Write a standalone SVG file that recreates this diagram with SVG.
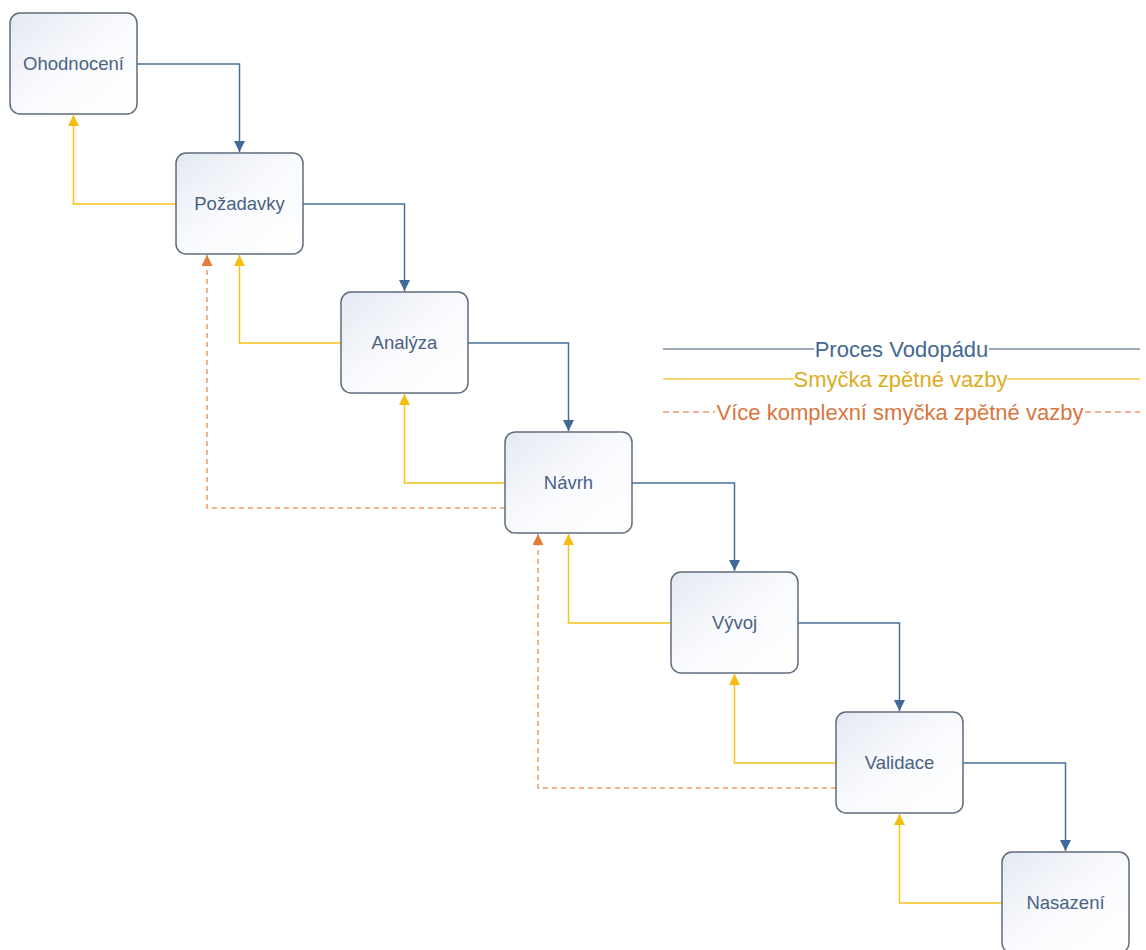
<svg xmlns="http://www.w3.org/2000/svg" width="1146" height="950" viewBox="0 0 1146 950">
  <defs>
    <linearGradient id="boxfill" x1="0" y1="0" x2="1" y2="1">
      <stop offset="0" stop-color="#e4e9f2"/>
      <stop offset="0.5" stop-color="#f9fafd"/>
      <stop offset="1" stop-color="#ffffff"/>
    </linearGradient>
    <marker id="ab" viewBox="0 0 10 10" refX="10" refY="5" markerWidth="11" markerHeight="11" markerUnits="userSpaceOnUse" orient="auto">
      <path d="M0,0 L10,5 L0,10 z" fill="#3f6a97"/>
    </marker>
    <marker id="ay" viewBox="0 0 10 10" refX="10" refY="5" markerWidth="11" markerHeight="11" markerUnits="userSpaceOnUse" orient="auto">
      <path d="M0,0 L10,5 L0,10 z" fill="#f5bd10"/>
    </marker>
    <marker id="ao" viewBox="0 0 10 10" refX="10" refY="5" markerWidth="11" markerHeight="11" markerUnits="userSpaceOnUse" orient="auto">
      <path d="M0,0 L10,5 L0,10 z" fill="#e47a3c"/>
    </marker>
  </defs>
  <style>
    .box { fill: url(#boxfill); stroke: #5e6c7c; stroke-width: 1.5; }
    .lbl { font-family: "Liberation Sans", Arial, sans-serif; font-size: 18.5px; fill: #4a6284; text-anchor: middle; }
    .blue { fill: none; stroke: #45709b; stroke-width: 1.5; }
    .yel { fill: none; stroke: #f7c21a; stroke-width: 1.5; }
    .org { fill: none; stroke: #ef9a62; stroke-width: 1.5; stroke-dasharray: 5 4; }
    .leg { font-family: "Liberation Sans", Arial, sans-serif; font-size: 22px; text-anchor: middle; }
  </style>
  <rect width="1146" height="950" fill="#ffffff"/>

  <g id="connectors">
    <!-- blue process flow -->
    <path class="blue" d="M137,64 H239.5 V152" marker-end="url(#ab)"/>
    <path class="blue" d="M303,204 H404.5 V291" marker-end="url(#ab)"/>
    <path class="blue" d="M468,343 H568.5 V431" marker-end="url(#ab)"/>
    <path class="blue" d="M632,483 H734.5 V571" marker-end="url(#ab)"/>
    <path class="blue" d="M798,623 H899.5 V711" marker-end="url(#ab)"/>
    <path class="blue" d="M963,763 H1065.5 V851" marker-end="url(#ab)"/>
    <!-- yellow feedback -->
    <path class="yel" d="M176,204 H73.5 V115" marker-end="url(#ay)"/>
    <path class="yel" d="M341,343 H239.5 V255" marker-end="url(#ay)"/>
    <path class="yel" d="M505,483 H404.5 V394" marker-end="url(#ay)"/>
    <path class="yel" d="M671,623 H568.5 V534" marker-end="url(#ay)"/>
    <path class="yel" d="M836,763 H734.5 V674" marker-end="url(#ay)"/>
    <path class="yel" d="M1002,903 H899.5 V814" marker-end="url(#ay)"/>
    <!-- orange complex feedback -->
    <path class="org" d="M505,508 H207 V255" marker-end="url(#ao)"/>
    <path class="org" d="M836,788 H538 V534" marker-end="url(#ao)"/>
  </g>

  <g id="n-ohodnoceni">
    <rect class="box" x="10" y="13" width="127" height="101" rx="10"/>
    <text class="lbl" x="73.5" y="70">Ohodnocení</text>
  </g>
  <g id="n-pozadavky">
    <rect class="box" x="176" y="153" width="127" height="101" rx="10"/>
    <text class="lbl" x="239.5" y="210">Požadavky</text>
  </g>
  <g id="n-analyza">
    <rect class="box" x="341" y="292" width="127" height="101" rx="10"/>
    <text class="lbl" x="404.5" y="349">Analýza</text>
  </g>
  <g id="n-navrh">
    <rect class="box" x="505" y="432" width="127" height="101" rx="10"/>
    <text class="lbl" x="568.5" y="489">Návrh</text>
  </g>
  <g id="n-vyvoj">
    <rect class="box" x="671" y="572" width="127" height="101" rx="10"/>
    <text class="lbl" x="734.5" y="629">Vývoj</text>
  </g>
  <g id="n-validace">
    <rect class="box" x="836" y="712" width="127" height="101" rx="10"/>
    <text class="lbl" x="899.5" y="769">Validace</text>
  </g>
  <g id="n-nasazeni">
    <rect class="box" x="1002" y="852" width="127" height="101" rx="10"/>
    <text class="lbl" x="1065.5" y="909">Nasazení</text>
  </g>

  <g id="legend">
    <line x1="663" y1="349" x2="814" y2="349" stroke="#7d8ea6" stroke-width="1.5"/>
    <line x1="989" y1="349" x2="1140" y2="349" stroke="#7d8ea6" stroke-width="1.5"/>
    <text class="leg" x="901.5" y="356.5" fill="#44688f">Proces Vodopádu</text>
    <line x1="663" y1="379" x2="794" y2="379" stroke="#f5c842" stroke-width="1.5"/>
    <line x1="1007" y1="379" x2="1140" y2="379" stroke="#f5c842" stroke-width="1.5"/>
    <text class="leg" x="900.5" y="386.5" fill="#dcac22">Smyčka zpětné vazby</text>
    <line x1="663" y1="412" x2="715" y2="412" stroke="#e59a6e" stroke-width="1.5" stroke-dasharray="6 4"/>
    <line x1="1085" y1="412" x2="1140" y2="412" stroke="#e59a6e" stroke-width="1.5" stroke-dasharray="6 4"/>
    <text class="leg" x="900" y="419.5" fill="#d8763e">Více komplexní smyčka zpětné vazby</text>
  </g>
</svg>
